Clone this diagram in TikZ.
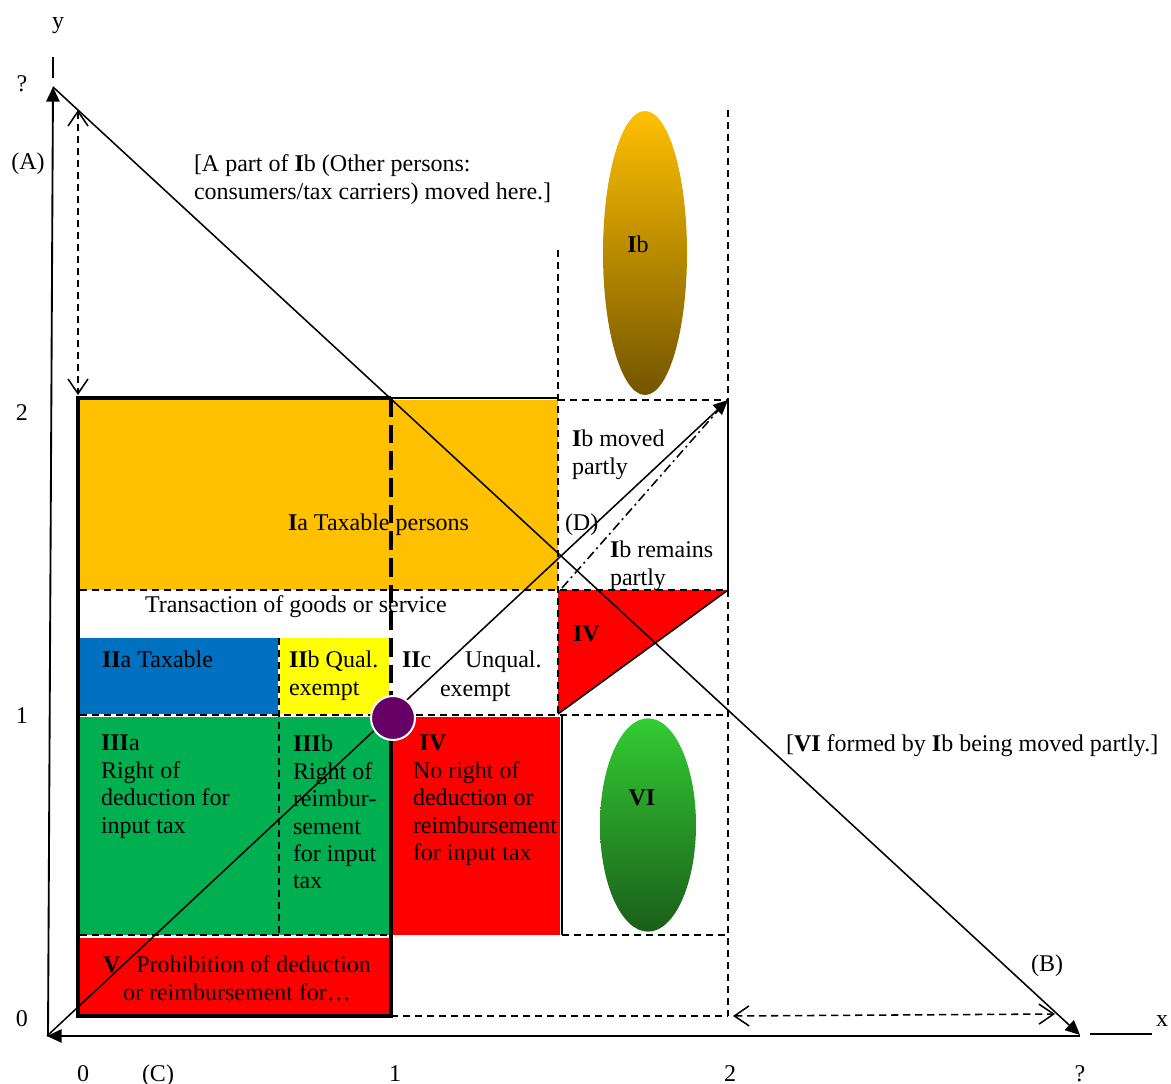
\documentclass[tikz,border=0pt]{standalone}
\usepackage{fontspec}
\setmainfont{Liberation Serif}
\usetikzlibrary{arrows.meta,shapes.geometric}
\definecolor{cIa}{HTML}{FFC000}
\definecolor{cIIa}{HTML}{0070C0}
\definecolor{cIIb}{HTML}{FFFF00}
\definecolor{cIII}{HTML}{00B050}
\definecolor{cred}{HTML}{FF0000}
\definecolor{cpurple}{HTML}{660066}
\definecolor{cIbtop}{HTML}{FFC000}
\definecolor{cIbbot}{HTML}{735500}
\definecolor{cVItop}{HTML}{33CC33}
\definecolor{cVIbot}{HTML}{1A5E1A}
\tikzset{
  lbl/.style={font=\fontsize{18}{20.6}\selectfont, inner sep=0pt, outer sep=0pt},
  mlbl/.style={lbl, align=left, anchor=north west},
  thinline/.style={line width=1.15pt},
  dashline/.style={line width=1.15pt, dash pattern=on 5.5pt off 3.5pt},
  thickline/.style={line width=3pt},
  thickdash/.style={line width=3pt, dash pattern=on 14pt off 6pt},
  axis/.style={line width=1.4pt},
  tri/.style={-{Triangle[length=11pt,width=10pt]}},
  dbl/.style={{Straight Barb[length=11pt,width=15pt]}-{Straight Barb[length=11pt,width=15pt]}},
}
\begin{document}
\begin{tikzpicture}[x=0.75pt,y=-0.75pt]
\useasboundingbox (0,0) rectangle (1171,1084);
% key points
\coordinate (O) at (47,1036);
\coordinate (Ytop) at (53,87);
\coordinate (Xend) at (1080,1036);
\coordinate (Bend) at (1080,1035);
\coordinate (Dend) at (728,400);
% colour fills
\fill[cIa] (80,400) rectangle (558,590);
\fill[cIIa] (80,638) rectangle (278,714);
\fill[cIIb] (280,638) rectangle (389,714);
\fill[cIII] (80,717) rectangle (389,935);
\fill[cred] (393,717) rectangle (560,935);
\fill[cred] (80,938) rectangle (389,1014);
\fill[cred] (558,590) -- (728,590) -- (558,714) -- cycle;
% ellipses
\node[ellipse, top color=cIbtop, bottom color=cIbbot, minimum width=63pt, minimum height=213pt, inner sep=0pt] (ellIb) at (645,253) {};
\node[ellipse, top color=cVItop, bottom color=cVIbot, minimum width=72pt, minimum height=160pt, inner sep=0pt] (ellVI) at (648,825) {};
% thin dashed grid
\draw[dashline] (558,250) -- (558,714);
\draw[dashline] (728,110) -- (728,400);
\draw[thinline] (728,400) -- (728,590);
\draw[dashline] (728,590) -- (728,1016);
\draw[thinline] (391,398) -- (558,398);
\draw[dashline] (558,400) -- (728,400);
\draw[dashline] (80,590) -- (728,590);
\draw[dashline] (80,715) -- (728,715);
\draw[dashline] (80,935) -- (389,935);
\draw[dashline] (562,935) -- (728,935);
\draw[dashline] (279,638) -- (279,935);
\draw[dashline] (391,1016) -- (728,1016);
\draw[thinline] (562,715) -- (562,935);
\draw[thinline] (728,590) -- (558,714);
% thick frame
\draw[thickline] (391,398) -- (78,398) -- (78,1016) -- (391,1016) -- (391,718);
\draw[thickdash] (391,398) -- (391,700);
% double arrows
\draw[dashline, dbl] (78,110) -- (78,395);
\draw[dashline, dbl] (733,1016) -- (1055,1014);
% axes
\draw[axis, tri] (48,1036) -- (Ytop);
\draw[axis] (53,57) -- (53,78);
\draw[axis, tri] (Xend) -- (O);
\draw[axis] (1090,1034) -- (1152,1034);
% diagonals
\draw[thinline, tri] (Ytop) -- (Bend);
\draw[thinline, tri] (O) -- (Dend);
\draw[line width=1.15pt, dash pattern=on 7pt off 3pt on 1.5pt off 3pt] (562,588) -- (722,406);
% point (1,1)
\node[circle, fill=cpurple, draw=white, line width=1.5pt, minimum size=33pt, inner sep=0pt] (P) at (393,718) {};
% axis labels
\node[lbl, anchor=base] (ly) at (58,29) {y};
\node[lbl, anchor=base] (lq1) at (22,92) {?};
\node[lbl, anchor=base] (lA) at (28,170) {(A)};
\node[lbl, anchor=base] (ly2) at (22,420) {2};
\node[lbl, anchor=base] (ly1) at (22,723) {1};
\node[lbl, anchor=base] (ly0) at (22,1026) {0};
\node[lbl, anchor=base] (lx0) at (83,1081) {0};
\node[lbl, anchor=base] (lC) at (158,1081) {(C)};
\node[lbl, anchor=base] (lx1) at (395,1081) {1};
\node[lbl, anchor=base] (lx2) at (730,1081) {2};
\node[lbl, anchor=base] (lq2) at (1080,1081) {?};
\node[lbl, anchor=base] (lx) at (1162,1026) {x};
\node[lbl, anchor=base] (lB) at (1047,971) {(B)};
% region labels
\node[mlbl] (tpart) at (194,155) {[A part of \textbf{I}b (Other persons:\\consumers/tax carriers) moved here.]};
\node[lbl, anchor=base] (tIb) at (638,253) {\textbf{I}b};
\node[lbl, anchor=base west] (tIa) at (288,530) {\textbf{I}a Taxable persons};
\node[lbl, anchor=base west] (tD) at (565,530) {(D)};
\node[mlbl] (tmoved) at (572,430) {\textbf{I}b moved\\partly};
\node[mlbl] (tremain) at (610,541) {\textbf{I}b remains\\partly};
\node[lbl, anchor=base west] (ttrans) at (145,612) {Transaction of goods or service};
\node[lbl, anchor=base west] (tIIa) at (102,667) {\textbf{II}a Taxable};
\node[mlbl] (tIIb) at (289,651) {\textbf{II}b Qual.\\exempt};
\node[lbl, anchor=base west] (tIIc) at (402,667) {\textbf{II}c};
\node[lbl, anchor=base west] (tunq) at (465,667) {Unqual.};
\node[lbl, anchor=base west] (tex) at (440,696) {exempt};
\node[lbl, anchor=base west] (tIVtri) at (573,641) {\textbf{IV}};
\node[mlbl] (tIIIa) at (101,735) {\textbf{III}a\\Right of\\deduction for\\input tax};
\node[mlbl] (tIIIb) at (293,735) {\textbf{III}b\\Right of\\reimbur-\\sement\\for input\\tax};
\node[mlbl] (tIV) at (413,735) {\hspace{5pt}\textbf{IV}\\No right of\\deduction or\\reimbursement\\for input tax};
\node[lbl, anchor=base] (tVI) at (642,805) {\textbf{VI}};
\node[lbl, align=center, anchor=north] (tV) at (237,956) {\textbf{V}\hspace{12pt}Prohibition of deduction\\or reimbursement for\ldots};
\node[lbl, anchor=base west] (tVIform) at (786,751) {[\textbf{VI} formed by \textbf{I}b being moved partly.]};
\end{tikzpicture}
\end{document}
